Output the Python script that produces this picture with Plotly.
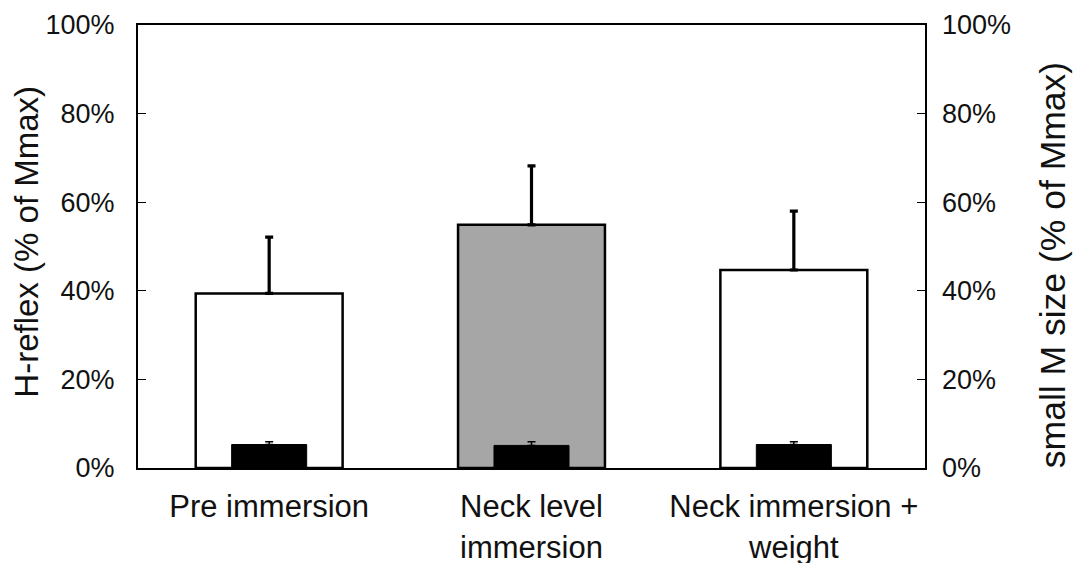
import plotly.graph_objects as go

categories = ["Pre immersion", "Neck level immersion", "Neck immersion + weight"]
tick_labels = ["Pre immersion", "Neck level<br>immersion", "Neck immersion +<br>weight"]
h_reflex = [0.394, 0.549, 0.447]
h_reflex_err = [0.127, 0.133, 0.133]
small_m = [0.053, 0.051, 0.053]
small_m_err = [0.006, 0.008, 0.006]
bar_colors = ["#ffffff", "#a6a6a6", "#ffffff"]

FONT = "Arial, Liberation Sans, sans-serif"

fig = go.Figure()
fig.add_trace(go.Bar(
    x=categories, y=h_reflex, width=0.56,
    marker=dict(color=bar_colors, line=dict(color="black", width=2.5)),
    error_y=dict(type="data", symmetric=False, array=h_reflex_err, arrayminus=[0, 0, 0],
                 color="black", thickness=3.2, width=4),
    showlegend=False, yaxis="y",
))
fig.add_trace(go.Bar(
    x=categories, y=small_m, width=0.286,
    marker=dict(color="black", line=dict(color="black", width=1)),
    error_y=dict(type="data", symmetric=False, array=small_m_err, arrayminus=[0, 0, 0],
                 color="black", thickness=1.5, width=4),
    showlegend=False, yaxis="y2",
))

axis_common = dict(range=[0, 1], tickvals=[0, 0.2, 0.4, 0.6, 0.8, 1.0], tickformat=".0%",
                   ticks="inside", ticklen=8, tickwidth=1, tickcolor="black",
                   showgrid=False, zeroline=False, automargin=False,
                   tickfont=dict(family=FONT, size=27, color="#111111"))

fig.update_layout(
    width=1075, height=563,
    margin=dict(l=138, r=150, t=25, b=95),
    paper_bgcolor="white", plot_bgcolor="white",
    barmode="overlay",
    xaxis=dict(type="category", tickvals=categories, ticktext=tick_labels,
               showline=True, linecolor="black", linewidth=2, mirror=True,
               ticks="", showgrid=False, ticklabelstandoff=10, automargin=False,
               tickfont=dict(family=FONT, size=31, color="#111111")),
    yaxis=dict(showline=True, linecolor="black", linewidth=2, mirror=True,
               ticklabelstandoff=16, **axis_common),
    yaxis2=dict(overlaying="y", side="right", showline=False,
                ticklabelstandoff=16, **axis_common),
    annotations=[
        dict(text="H-reflex (% of Mmax)", xref="paper", yref="paper",
             x=-0.141, y=0.511, xanchor="center", yanchor="middle", textangle=-90,
             showarrow=False, font=dict(family=FONT, size=33, color="#111111")),
        dict(text="small M size (% of Mmax)", xref="paper", yref="paper",
             x=1.162, y=0.459, xanchor="center", yanchor="middle", textangle=-90,
             showarrow=False, font=dict(family=FONT, size=35.5, color="#111111")),
    ],
)

fig.write_html("out.html")
